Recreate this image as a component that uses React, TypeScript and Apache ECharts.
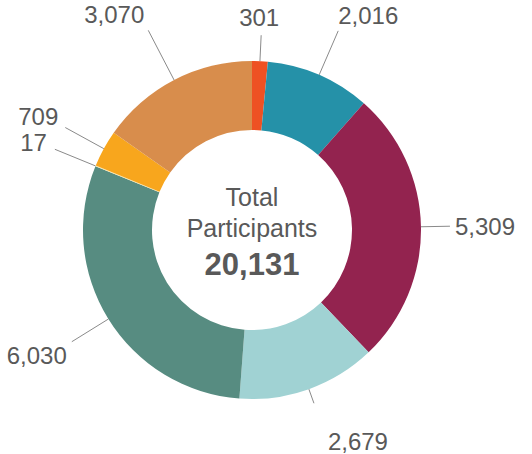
import React, { useEffect, useRef } from "react";
import * as echarts from "echarts";

// Slice values, clockwise from 12 o'clock
const values = [301, 2016, 5309, 2679, 6030, 17, 709, 3070];
const sliceNames = ["Slice 1", "Slice 2", "Slice 3", "Slice 4", "Slice 5", "Slice 6", "Slice 7", "Slice 8"];
const colors = ["#EE5123", "#2591A8", "#93234F", "#A0D2D3", "#578C81", "#FBE6A8", "#F8A61D", "#D88D4C"];
const centerTitle = ["Total", "Participants"];
const totalValue = 20131;

// label styling (leader length beyond the ring, text alignment and offsets from the leader end)
const leaderLen = [26, 48, 29, 15, 43, 44, 44, 56];
const labelAlign = ["center", "left", "left", "center", "right", "right", "right", "right"];
const labelDx = [-2, 0, 5, 44, -5, -8, -7, -4];
const labelDy = [-18, -15, 0, 38, 14, -7, -11, -16];

const CX = 252;
const CY = 230;
const R_IN = 100;
const R_OUT = 169;
const TEXT = "#595959";
const FONT = "'Liberation Sans', Arial, sans-serif";

const fmt = (v: number) => v.toLocaleString("en-US");

export default function App() {
  const ref = useRef<HTMLDivElement>(null);
  useEffect(() => {
    document.body.style.margin = "0";
    if (!ref.current) return;
    const chart = echarts.init(ref.current, null, { renderer: "svg" });
    const total = values.reduce((a, b) => a + b, 0);
    chart.setOption({
      animation: false,
      backgroundColor: "#ffffff",
      series: [
        {
          type: "pie",
          center: [CX, CY],
          radius: [R_IN, R_OUT],
          startAngle: 90,
          clockwise: true,
          avoidLabelOverlap: false,
          silent: true,
          data: values.map((v, i) => ({
            value: v,
            name: sliceNames[i],
            itemStyle: { color: colors[i] },
          })),
          itemStyle: { borderWidth: 0 },
          label: {
            show: true,
            position: "outside",
            formatter: (p: any) => fmt(p.value),
            color: TEXT,
            fontSize: 24,
            lineHeight: 24,
            fontFamily: FONT,
          },
          labelLine: {
            show: true,
            length: 20,
            length2: 0,
            lineStyle: { color: "#8a8a8a", width: 1 },
          },
          labelLayout: (params: any) => {
            const i = params.dataIndex;
            let before = 0;
            for (let k = 0; k < i; k++) before += values[k];
            const f = (before + values[i] / 2) / total;
            const a = f * Math.PI * 2;
            const ux = Math.sin(a);
            const uy = -Math.cos(a);
            const start = [CX + R_OUT * ux, CY + R_OUT * uy];
            const end = [CX + (R_OUT + leaderLen[i]) * ux, CY + (R_OUT + leaderLen[i]) * uy];
            return {
              x: end[0] + labelDx[i],
              y: end[1] + labelDy[i],
              align: labelAlign[i],
              verticalAlign: "middle",
              labelLinePoints: [start, end, end],
            };
          },
        },
      ],
      graphic: [
        {
          type: "text",
          x: CX,
          y: 197,
          style: {
            text: centerTitle[0],
            fill: TEXT,
            font: `25px ${FONT}`,
            align: "center",
            verticalAlign: "middle",
          },
        },
        {
          type: "text",
          x: CX,
          y: 228,
          style: {
            text: centerTitle[1],
            fill: TEXT,
            font: `25px ${FONT}`,
            align: "center",
            verticalAlign: "middle",
          },
        },
        {
          type: "text",
          x: CX,
          y: 264,
          style: {
            text: fmt(totalValue),
            fill: TEXT,
            font: `bold 31px ${FONT}`,
            align: "center",
            verticalAlign: "middle",
          },
        },
      ],
    });
    return () => chart.dispose();
  }, []);
  return <div ref={ref} style={{ width: 532, height: 454 }} />;
}
